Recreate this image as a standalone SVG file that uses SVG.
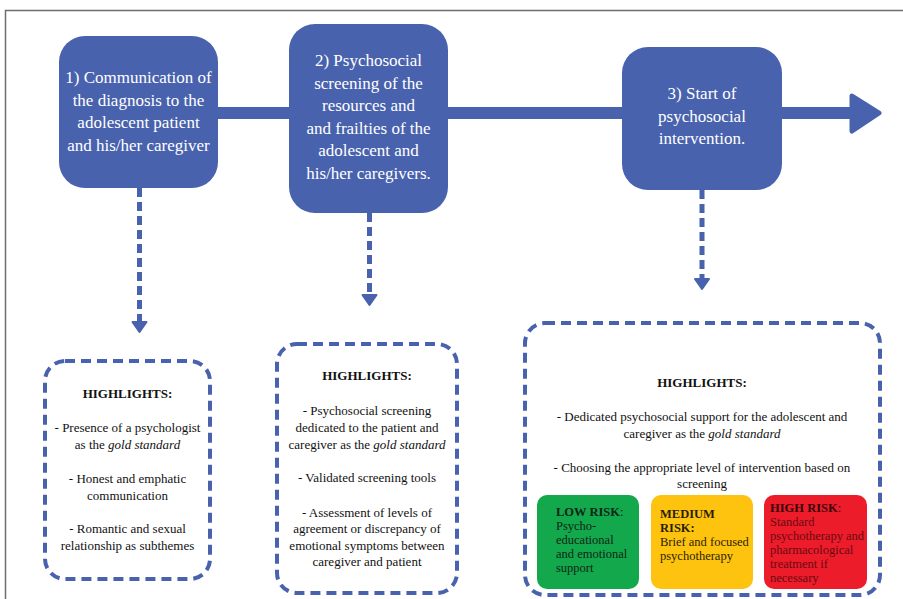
<svg xmlns="http://www.w3.org/2000/svg" width="903" height="599" viewBox="0 0 903 599">
<style>
.step{fill:#4862ad}
.st{font-family:'Liberation Serif','Times New Roman','DejaVu Serif',serif;font-size:17px;fill:#ffffff;text-anchor:middle}
.hl{fill:#ffffff;stroke:#4862ad;stroke-width:4;stroke-dasharray:10 6}
.ht{font-family:'Liberation Serif','Times New Roman','DejaVu Serif',serif;font-size:13px;fill:#111111;text-anchor:middle}
.hb{font-weight:bold}
.dash{stroke:#4862ad;stroke-width:5;stroke-dasharray:9 5;fill:none}
.head{fill:#4862ad;stroke:#4862ad;stroke-width:2;stroke-linejoin:round}
.rt{font-family:'Liberation Serif','Times New Roman','DejaVu Serif',serif;font-size:12.5px}
</style>
<rect x="0" y="0" width="903" height="599" fill="#ffffff"/>
<rect x="5.5" y="10.5" width="920" height="620" fill="none" stroke="#6d6d6d" stroke-width="1.5"/>
<g id="connectors">
  <rect x="200" y="107" width="656" height="12" fill="#4862ad"/>
  <polygon points="852,96 879,113 852,131" fill="#4862ad" stroke="#4862ad" stroke-width="5" stroke-linejoin="round"/>
  <line class="dash" x1="139.5" y1="188" x2="139.5" y2="322"/>
  <polygon class="head" points="132.5,322 146.5,322 139.5,332"/>
  <line class="dash" x1="369.5" y1="213" x2="369.5" y2="295"/>
  <polygon class="head" points="362.5,295 376.5,295 369.5,305"/>
  <line class="dash" x1="702" y1="190" x2="702" y2="279"/>
  <polygon class="head" points="695,279 709,279 702,289"/>
</g>
<g id="step1">
  <rect class="step" x="59" y="36" width="159" height="152" rx="26"/>
  <text class="st" x="138.5" y="83">1) Communication of</text>
  <text class="st" x="138.5" y="106">the diagnosis to the</text>
  <text class="st" x="138.5" y="128">adolescent patient</text>
  <text class="st" x="138.5" y="151">and his/her caregiver</text>
</g>
<g id="step2">
  <rect class="step" x="289" y="24" width="159" height="189" rx="26"/>
  <text class="st" x="368.5" y="66">2) Psychosocial</text>
  <text class="st" x="368.5" y="89">screening of the</text>
  <text class="st" x="368.5" y="111">resources and</text>
  <text class="st" x="368.5" y="134">and frailties of the</text>
  <text class="st" x="368.5" y="156">adolescent and</text>
  <text class="st" x="368.5" y="179">his/her caregivers.</text>
</g>
<g id="step3">
  <rect class="step" x="622" y="47" width="160" height="143" rx="26"/>
  <text class="st" x="702" y="99">3) Start of</text>
  <text class="st" x="702" y="122">psychosocial</text>
  <text class="st" x="702" y="144">intervention.</text>
</g>
<g id="highlights1">
  <rect class="hl" x="45" y="361" width="165" height="218" rx="20"/>
  <text class="ht hb" x="127.5" y="398">HIGHLIGHTS:</text>
  <text class="ht" x="127.5" y="432">- Presence of a psychologist</text>
  <text class="ht" x="127.5" y="449">as the <tspan font-style="italic">gold standard</tspan></text>
  <text class="ht" x="127.5" y="483">- Honest and emphatic</text>
  <text class="ht" x="127.5" y="500">communication</text>
  <text class="ht" x="127.5" y="533">- Romantic and sexual</text>
  <text class="ht" x="127.5" y="550">relationship as subthemes</text>
</g>
<g id="highlights2">
  <rect class="hl" x="277" y="344" width="180" height="249" rx="20"/>
  <text class="ht hb" x="367" y="380">HIGHLIGHTS:</text>
  <text class="ht" x="367" y="415">- Psychosocial screening</text>
  <text class="ht" x="367" y="432">dedicated to the patient and</text>
  <text class="ht" x="367" y="449">caregiver as the <tspan font-style="italic">gold standard</tspan></text>
  <text class="ht" x="367" y="482">- Validated screening tools</text>
  <text class="ht" x="367" y="517">- Assessment of levels of</text>
  <text class="ht" x="367" y="533">agreement or discrepancy of</text>
  <text class="ht" x="367" y="550">emotional symptoms between</text>
  <text class="ht" x="367" y="566">caregiver and patient</text>
</g>
<g id="highlights3">
  <rect class="hl" x="525" y="323" width="355" height="272" rx="20"/>
  <text class="ht hb" x="702" y="387">HIGHLIGHTS:</text>
  <text class="ht" x="702" y="421">- Dedicated psychosocial support for the adolescent and</text>
  <text class="ht" x="702" y="438">caregiver as the <tspan font-style="italic">gold standard</tspan></text>
  <text class="ht" x="702" y="472">- Choosing the appropriate level of intervention based on</text>
  <text class="ht" x="702" y="488">screening</text>
</g>
<g id="low-risk">
  <rect x="537" y="495" width="102" height="94" rx="10" fill="#14a84d"/>
  <text class="rt" x="556" y="516" fill="#0d2615"><tspan font-weight="bold">LOW RISK</tspan>:</text>
  <text class="rt" x="556" y="530" fill="#0d2615">Psycho-</text>
  <text class="rt" x="556" y="544" fill="#0d2615">educational</text>
  <text class="rt" x="556" y="558" fill="#0d2615">and emotional</text>
  <text class="rt" x="556" y="572" fill="#0d2615">support</text>
</g>
<g id="medium-risk">
  <rect x="651" y="495" width="102" height="94" rx="10" fill="#fec30f"/>
  <text class="rt" x="660" y="518" fill="#2a1e00" font-weight="bold">MEDIUM</text>
  <text class="rt" x="660" y="532" fill="#2a1e00" font-weight="bold">RISK:</text>
  <text class="rt" x="660" y="546" fill="#2a1e00">Brief and focused</text>
  <text class="rt" x="660" y="560" fill="#2a1e00">psychotherapy</text>
</g>
<g id="high-risk">
  <rect x="764" y="495" width="103" height="94" rx="10" fill="#ed1c2b"/>
  <text class="rt" x="770" y="512" fill="#3a0508"><tspan font-weight="bold">HIGH RISK</tspan>:</text>
  <text class="rt" x="770" y="526" fill="#6a0a10">Standard</text>
  <text class="rt" x="770" y="540" fill="#6a0a10">psychotherapy and</text>
  <text class="rt" x="770" y="554" fill="#6a0a10">pharmacological</text>
  <text class="rt" x="770" y="568" fill="#6a0a10">treatment if</text>
  <text class="rt" x="770" y="582" fill="#6a0a10">necessary</text>
</g>
</svg>
